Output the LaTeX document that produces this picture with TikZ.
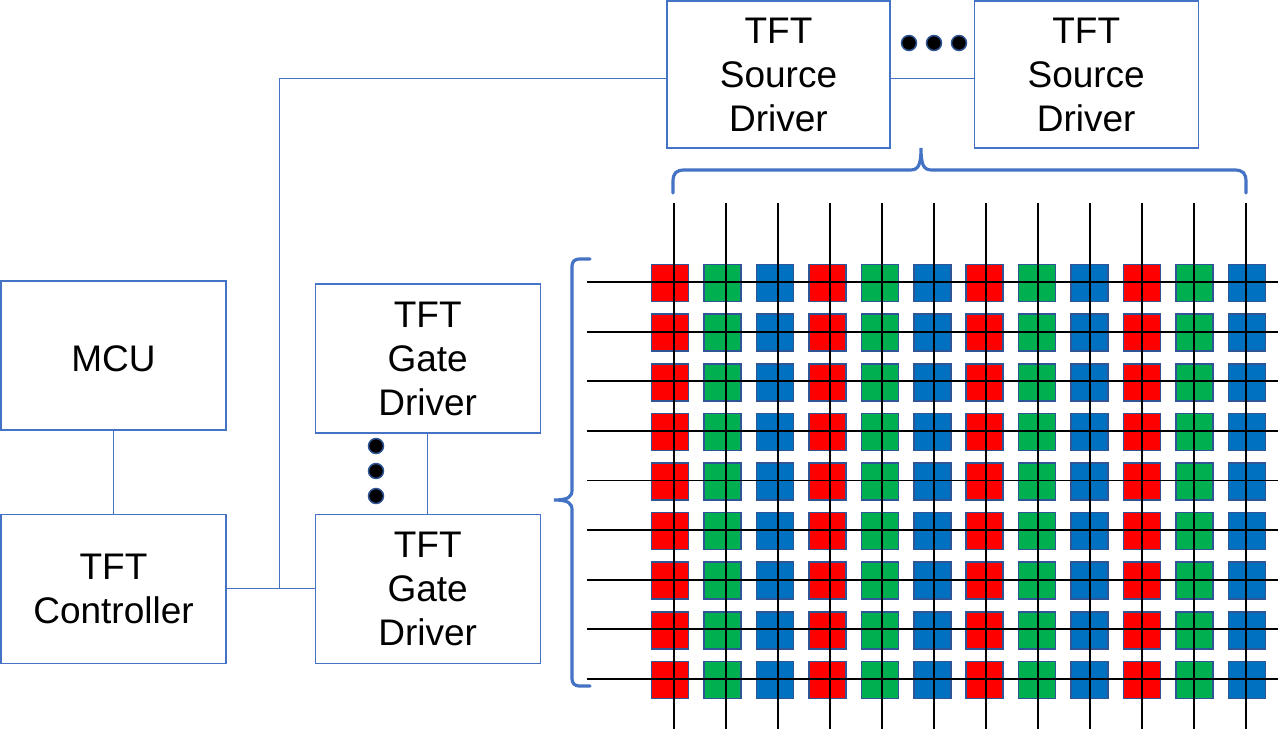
\documentclass[tikz,border=0pt]{standalone}
\usepackage{fontspec}
\setmainfont{Liberation Sans}
\usetikzlibrary{calc}
\usetikzlibrary{positioning}

\definecolor{officeblue}{HTML}{4472C4}
\definecolor{darkblue}{HTML}{2F5597}
\definecolor{pixred}{HTML}{FF0000}
\definecolor{pixgreen}{HTML}{00B050}
\definecolor{pixblue}{HTML}{0070C0}

\tikzset{
  block/.style={draw=officeblue, line width=1.2pt, minimum width=225pt, minimum height=149pt,
    align=center, inner sep=0pt, font=\fontsize{37}{44}\selectfont,
    execute at begin node={\rule{0pt}{32pt}}},
  link/.style={draw=officeblue, line width=1pt},
  bigdot/.style={circle, fill=black, draw=darkblue, line width=1.5pt, minimum size=15pt, inner sep=0pt},
  pixel/.style={draw=darkblue, line width=1.6pt, minimum size=37pt, inner sep=0pt},
  wire/.style={black, line width=1.8pt},
  bracket/.style={draw=officeblue, line width=3.2pt, line cap=round}
}

\begin{document}
\begin{tikzpicture}[x=1pt, y=-1pt]
  \useasboundingbox (0,0) rectangle (1278,729);

  \node [block] (mcu) at (113.5,355.5) {MCU};
  \node [block, below=83pt of mcu] (ctrl) {TFT\\Controller};
  \node [block, right=88pt of ctrl] (gate2) {TFT\\Gate\\Driver};
  \node [block, above=80pt of gate2] (gate1) {TFT\\Gate\\Driver};

  \node [block, minimum width=223pt, minimum height=147pt] (src1) at (778.5,74.5) {TFT\\Source\\Driver};
  \node [block, minimum width=224pt, minimum height=147pt, right=83pt of src1] (src2) {TFT\\Source\\Driver};

  \coordinate (junc) at (279,587.5);
  \coordinate (bend) at (279,78);

  \draw [link] (mcu) -- (ctrl);
  \draw [link] (ctrl) -- (gate2);
  \draw [link] (gate1) -- (gate2);
  \draw [link] (junc) -- (bend) -- (bend -| src1.west);
  \draw [link] (src1.east |- bend) -- (src2.west |- bend);

  % ellipsis dots
  \foreach \i in {0,1,2} {
    \node [bigdot] (hdot\i) at ({909+25*\i},43) {};
    \node [bigdot] (vdot\i) at (376,{446+25*\i}) {};
  }

  % pixel grid
  \foreach \grp in {0,...,3} {
    \foreach \c [count=\k from 0] in {pixred,pixgreen,pixblue} {
      \pgfmathtruncatemacro{\col}{3*\grp+\k}
      \foreach \row in {0,...,8}
        \node [pixel, fill=\c] (p-\col-\row) at ({670+52.45*\col},{283+49.6*\row}) {};
    }
  }
  \foreach \col in {0,...,11}
    \draw [wire] ({674+52*\col},203) -- ({674+52*\col},729);
  \foreach \row in {0,...,8}
    \draw [wire] (587,{282+49.6*\row}) -- (1278,{282+49.6*\row});

  % braces
  \draw [bracket] (673,193) -- (673,182) .. controls (673,173) and (676,170) .. (685,170)
    -- (910,170) .. controls (918,170) and (921,166) .. (921,148)
    .. controls (921,166) and (924,170) .. (932,170)
    -- (1234,170) .. controls (1243,170) and (1246,173) .. (1246,182) -- (1246,193);
  \draw [bracket] (590,259) -- (581,259) .. controls (574,259) and (572,261) .. (572,268)
    -- (572,490) .. controls (572,497) and (568,500) .. (554,500)
    .. controls (568,500) and (572,503) .. (572,510)
    -- (572,677) .. controls (572,684) and (574,686) .. (581,686) -- (590,686);
\end{tikzpicture}
\end{document}
